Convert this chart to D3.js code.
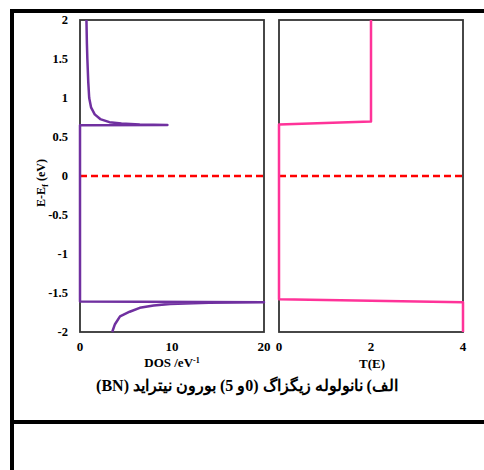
<!DOCTYPE html>
<html>
<head>
<meta charset="utf-8">
<script src="https://cdn.jsdelivr.net/npm/d3@7"></script>
<style>
  body { margin: 0; background: #fff; }
  text { font-family: "Liberation Serif", "Times New Roman", serif; font-weight: bold; }
</style>
</head>
<body>
<script>
// DOS curve: [DOS, E]
const dosPoints = [
  [0.7, 2], [0.75, 1.7], [0.8, 1.5], [0.9, 1.2], [1.0, 1.0], [1.2, 0.88],
  [1.6, 0.79], [2.2, 0.73], [3.2, 0.69], [4.5, 0.672], [6.5, 0.66], [9.5, 0.655],
  [0, 0.65], [0, -1.61], [20, -1.62], [14, -1.625], [9.8, -1.64],
  [8, -1.66], [6.5, -1.69], [5.4, -1.74], [4.35, -1.8], [3.8, -1.9], [3.5, -2]
];
// transmission T(E): [T, E]
const transPoints = [
  [2, 2], [2, 0.7], [0, 0.66], [0, -1.58], [4, -1.62], [4, -2]
];
const yTicks = [2, 1.5, 1, 0.5, 0, -0.5, -1, -1.5, -2];
const dosTicks = [0, 10, 20];
const transTicks = [0, 2, 4];
const caption = "الف) نانولوله زیگزاگ (0و 5) بورون نیتراید (BN)";

const W = 484, H = 470;
const svg = d3.select("body").append("svg").attr("width", W).attr("height", H);

// outer frame
svg.append("line").attr("x1", 10).attr("x2", W).attr("y1", 11).attr("y2", 11)
  .attr("stroke", "#000").attr("stroke-width", 4);
svg.append("line").attr("x1", 12).attr("x2", 12).attr("y1", 9).attr("y2", H)
  .attr("stroke", "#000").attr("stroke-width", 4);
svg.append("line").attr("x1", 10).attr("x2", W).attr("y1", 422).attr("y2", 422)
  .attr("stroke", "#000").attr("stroke-width", 4);

const y = d3.scaleLinear().domain([-2, 2]).range([332, 20]);
const xDos = d3.scaleLinear().domain([0, 20]).range([80, 264]);
const xT = d3.scaleLinear().domain([0, 4]).range([279, 463]);

function panel(x, pts, color, ticks, showY) {
  const [x0, x1] = x.range();
  svg.append("rect").attr("x", x0).attr("y", 20).attr("width", x1 - x0).attr("height", 312)
    .attr("fill", "none").attr("stroke", "#333").attr("stroke-width", 1.8);

  // Fermi level
  svg.append("line").attr("x1", x0).attr("x2", x1).attr("y1", y(0)).attr("y2", y(0))
    .attr("stroke", "#ff0000").attr("stroke-width", 2.5).attr("stroke-dasharray", "7,4");

  svg.append("path").datum(pts).attr("d", d3.line().x(d => x(d[0])).y(d => y(d[1])))
    .attr("fill", "none").attr("stroke", color).attr("stroke-width", 2.5)
    .attr("stroke-linejoin", "round");

  svg.append("g").selectAll("text").data(ticks).join("text")
    .attr("x", d => x(d)).attr("y", 351).attr("text-anchor", "middle")
    .attr("font-size", 13).text(d => d);

  if (showY) {
    svg.append("g").selectAll("text").data(yTicks).join("text")
      .attr("x", 68).attr("y", d => y(d) + 4).attr("text-anchor", "end")
      .attr("font-size", 12.5).text(d => d);
  }
}

panel(xDos, dosPoints, "#7030a0", dosTicks, true);
panel(xT, transPoints, "#ff3399", transTicks, false);

// axis titles
const dosLab = svg.append("text").attr("x", 172).attr("y", 367).attr("text-anchor", "middle")
  .attr("font-size", 13);
dosLab.append("tspan").text("DOS /eV");
dosLab.append("tspan").attr("dy", -4).attr("font-size", 8).text("-1");

svg.append("text").attr("x", 372).attr("y", 368).attr("text-anchor", "middle")
  .attr("font-size", 13).text("T(E)");

const yLab = svg.append("text").attr("transform", "translate(45,183) rotate(-90)")
  .attr("text-anchor", "middle").attr("font-size", 12);
yLab.append("tspan").text("E-E");
yLab.append("tspan").attr("dy", 3).attr("font-size", 9).text("f");
yLab.append("tspan").attr("dy", -3).text(" (eV)");

svg.append("text").attr("x", 247).attr("y", 391).attr("text-anchor", "middle")
  .attr("direction", "rtl").attr("font-size", 16).text(caption);
</script>
</body>
</html>
